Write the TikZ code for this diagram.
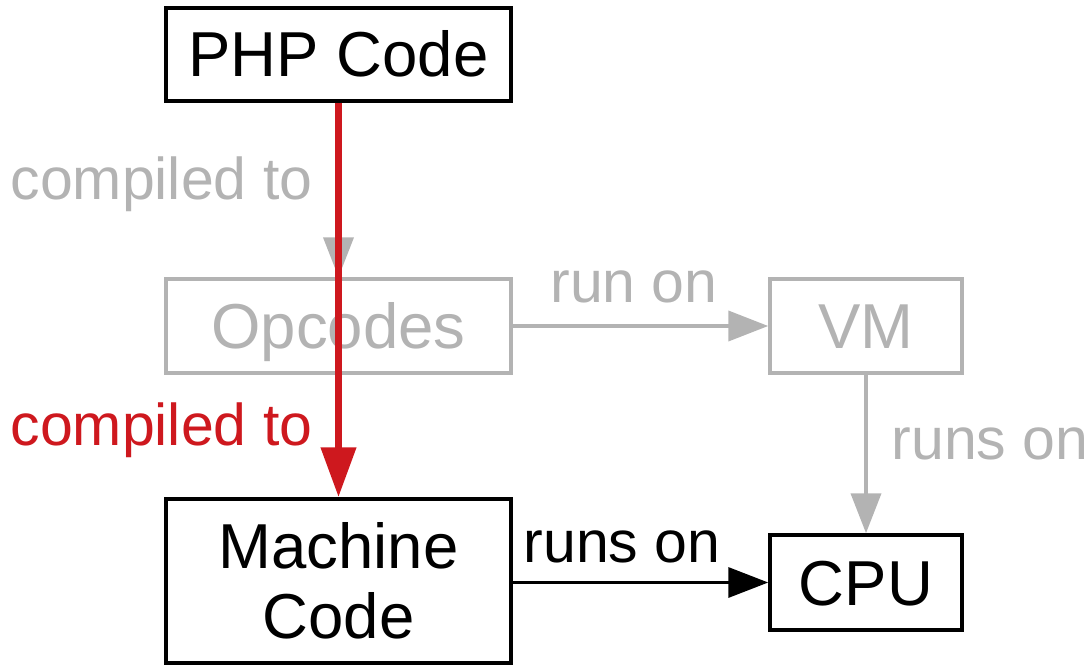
\documentclass[tikz,border=0pt]{standalone}
\usepackage{fontspec}
\setmainfont{Liberation Sans}
\usetikzlibrary{arrows.meta}
\definecolor{lgray}{HTML}{B3B3B3}
\definecolor{hred}{HTML}{CE181E}
\begin{document}
\begin{tikzpicture}[x=1pt,y=-1pt,
  box/.style={draw, line width=3.5pt, rectangle, inner sep=0pt, font=\fontsize{63.5}{70}\selectfont, align=center},
  onebox/.style={box, text height=45pt, text depth=0pt},
  lab/.style={anchor=base, inner sep=0pt, font=\fontsize{59}{66}\selectfont},
  garrow/.style={draw=lgray, line width=4pt, -{Triangle[length=40pt,width=30pt]}},
  barrow/.style={draw=black, line width=3.5pt, -{Triangle[length=40pt,width=30pt]}},
  rarrow/.style={draw=hred, line width=7.5pt, -{Triangle[length=50pt,width=34pt]}}]
\useasboundingbox (0,0) rectangle (1089,666);
\node[onebox, minimum width=345pt, minimum height=93pt] (php) at (338.5,54.5) {PHP Code};
\node[onebox, draw=lgray, text=lgray, minimum width=345pt, minimum height=94pt] (op) at (338.5,326) {Opcodes};
\node[onebox, draw=lgray, text=lgray, minimum width=192pt, minimum height=94pt] (vm) at (866,326) {VM};
\node[onebox, minimum width=192pt, minimum height=95pt] (cpu) at (866,582.5) {CPU};
\node[box, minimum width=345pt, minimum height=164pt] (mc) at (338.5,581) {Machine\\Code};
\draw[garrow] (php.south) -- (op.north);
\draw[garrow] (op.east) -- (vm.west);
\draw[garrow] (vm.south) -- (cpu.north);
\draw[barrow] (mc.east |- cpu.west) -- (cpu.west);
\draw[rarrow] (php.south) -- (mc.north);
\node[lab, text=lgray] (l1) at (161.5,199) {compiled to};
\node[lab, text=hred] (l2) at (161.5,445) {compiled to};
\node[lab, text=lgray] (l3) at (634,302) {run on};
\node[lab, text=lgray] (l4) at (990,459) {runs on};
\node[lab] (l5) at (622,562) {runs on};
\end{tikzpicture}
\end{document}
